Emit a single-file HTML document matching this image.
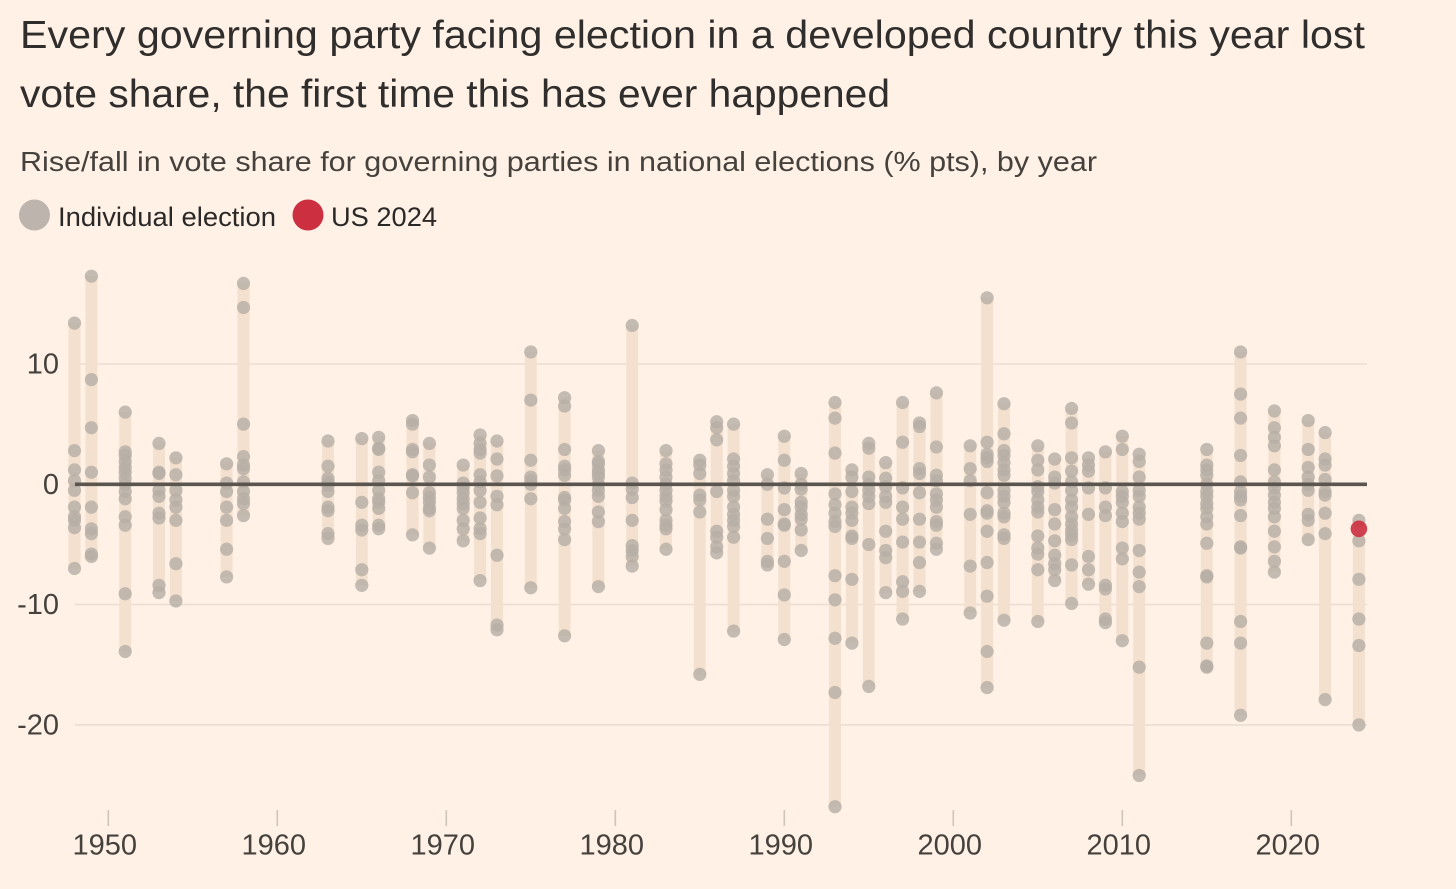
<!DOCTYPE html>
<html lang="en">
<head>
<meta charset="utf-8">
<title>Governing party vote share by year</title>
<style>
html,body{margin:0;padding:0;background:#fff1e5;width:1456px;height:889px;overflow:hidden}
svg{display:block;font-family:"Liberation Sans",sans-serif}
</style>
</head>
<body>
<svg id="chart" width="1456" height="889" viewBox="0 0 1456 889" xmlns="http://www.w3.org/2000/svg">
  <rect x="0" y="0" width="1456" height="889" fill="#fff1e5"/>
  <text x="20" y="48" font-size="39" fill="#302e2c" textLength="1345" lengthAdjust="spacingAndGlyphs">Every governing party facing election in a developed country this year lost</text>
  <text x="20" y="107" font-size="39" fill="#302e2c" textLength="870" lengthAdjust="spacingAndGlyphs">vote share, the first time this has ever happened</text>
  <text x="20" y="171" font-size="28" fill="#45413d" textLength="1077" lengthAdjust="spacingAndGlyphs">Rise/fall in vote share for governing parties in national elections (% pts), by year</text>
  <g>
    <circle cx="34.5" cy="215" r="15.5" fill="#bdb5ad"/>
    <text x="58" y="226" font-size="27" fill="#2b2927" textLength="218" lengthAdjust="spacingAndGlyphs">Individual election</text>
    <circle cx="308" cy="215" r="15.5" fill="#cc3040"/>
    <text x="331" y="226" font-size="27" fill="#2b2927" textLength="106" lengthAdjust="spacingAndGlyphs">US 2024</text>
  </g>
  <g id="grid"></g>
  <g id="bars"></g>
  <g id="dots"></g>
  <g id="zero"></g>
  <g id="highlight"></g>
  <g id="yaxis"></g>
  <g id="xaxis"></g>
</svg>
<script>
const years = [1948,1949,1951,1953,1954,1957,1958,1963,1965,1966,1968,1969,1971,1972,1973,1975,1977,1979,1981,1983,1985,1986,1987,1989,1990,1991,1993,1994,1995,1996,1997,1998,1999,2001,2002,2003,2005,2006,2007,2008,2009,2010,2011,2015,2017,2019,2021,2022,2024];
const voteChanges = [
  [13.4,2.8,1.2,0.3,-0.5,-1.9,-2.7,-3.0,-3.6,-7.0],
  [17.3,8.7,4.7,1.0,-1.9,-3.7,-4.1,-5.8,-6.0],
  [6.0,2.7,2.4,1.9,1.4,1.0,0.5,0.0,-0.6,-1.2,-2.7,-3.4,-9.1,-13.9],
  [3.4,1.0,0.9,-0.5,-1.0,-2.4,-2.8,-8.4,-9.0],
  [2.2,0.8,-0.5,-1.3,-1.9,-3.0,-6.6,-9.7],
  [1.7,0.1,-0.6,-1.9,-3.0,-5.4,-7.7],
  [16.7,14.7,5.0,2.3,1.6,1.3,0.2,-0.6,-1.2,-1.6,-2.6],
  [3.6,1.5,0.5,0.2,-0.1,-0.6,-1.9,-2.2,-4.1,-4.5],
  [3.8,-1.5,-3.4,-3.8,-7.1,-8.4],
  [3.9,3.0,2.9,1.0,0.3,-0.5,-1.2,-1.5,-2.0,-3.4,-3.7],
  [5.3,5.0,2.9,2.7,0.8,0.7,-0.7,-4.2],
  [3.4,1.6,0.6,-0.7,-1.1,-1.5,-2.0,-2.2,-5.3],
  [1.6,0.1,-0.3,-0.7,-1.2,-1.6,-2.0,-3.0,-3.7,-4.7],
  [4.1,3.4,2.9,2.6,0.8,0.2,-0.5,-1.5,-2.8,-3.7,-4.1,-8.0],
  [3.6,2.1,0.7,-1.0,-1.7,-5.9,-11.7,-12.1],
  [11.0,7.0,2.0,0.6,0.3,0.0,-1.2,-8.6],
  [7.2,6.5,2.9,1.5,1.2,0.75,-1.1,-1.3,-2.0,-3.1,-3.7,-4.6,-12.6],
  [2.8,1.9,1.7,1.2,0.9,0.6,0.0,-0.5,-1.0,-2.3,-3.1,-8.5],
  [13.2,0.1,-0.4,-1.1,-3.0,-5.1,-5.5,-6.0,-6.8],
  [2.8,1.7,1.2,0.6,0.0,-0.5,-1.0,-1.4,-2.1,-3.0,-3.4,-3.7,-5.4],
  [2.0,1.6,0.9,-0.9,-1.3,-2.3,-15.8],
  [5.2,4.7,3.7,-0.6,-3.9,-4.4,-5.2,-5.7],
  [5.0,2.1,1.5,0.9,0.3,-0.5,-1.0,-1.9,-2.5,-3.0,-3.5,-4.4,-12.2],
  [0.8,0.0,-2.9,-4.5,-6.4,-6.7],
  [4.0,2.0,-0.3,-2.1,-3.3,-3.4,-6.4,-9.2,-12.9],
  [0.9,0.0,-0.4,-1.5,-1.9,-2.5,-2.9,-3.8,-5.5],
  [6.8,5.5,2.6,-0.8,-1.7,-2.4,-3.1,-3.5,-7.6,-9.6,-12.8,-17.3,-26.8],
  [1.2,0.6,-0.6,-1.9,-2.4,-3.0,-4.3,-4.5,-7.9,-13.2],
  [3.4,3.0,0.6,0.0,-0.5,-1.0,-1.6,-5.0,-16.8],
  [1.8,0.5,-0.2,-1.0,-1.5,-3.9,-5.5,-6.1,-9.0],
  [6.8,3.5,-0.3,-1.9,-2.9,-4.8,-8.1,-8.9,-11.2],
  [5.1,4.8,1.3,0.9,-0.7,-2.9,-4.8,-6.5,-8.9],
  [7.6,3.1,0.75,0.3,-0.8,-1.3,-1.9,-3.1,-3.4,-4.9,-5.4],
  [3.2,1.3,0.3,-2.5,-6.8,-10.7],
  [15.5,3.5,2.5,2.2,1.9,-0.7,-2.2,-2.4,-3.9,-6.5,-9.3,-13.9,-16.9],
  [6.7,4.2,2.8,2.4,1.8,1.2,0.75,-0.5,-1.0,-1.5,-2.4,-2.7,-4.2,-4.5,-11.3],
  [3.2,2.0,1.2,-0.2,-0.6,-1.3,-1.9,-2.3,-4.3,-5.3,-5.8,-7.1,-11.4],
  [2.1,0.6,0.1,-2.1,-3.3,-4.7,-5.9,-6.6,-7.1,-8.0],
  [6.3,5.1,2.2,1.1,0.2,-0.5,-1.3,-1.9,-2.7,-3.3,-3.8,-4.2,-4.6,-6.7,-9.9],
  [2.2,1.6,1.1,-0.3,-2.5,-6.0,-7.1,-8.3],
  [2.7,-0.3,-1.9,-2.6,-8.4,-8.7,-11.2,-11.5],
  [4.0,2.9,-0.6,-1.0,-1.5,-2.4,-3.1,-5.3,-6.2,-13.0],
  [2.5,1.9,0.6,-0.5,-1.0,-1.9,-2.4,-2.9,-5.5,-7.3,-8.5,-15.2,-24.2],
  [2.9,1.6,1.2,0.75,0.0,-0.6,-1.0,-1.6,-2.0,-2.7,-3.3,-4.9,-7.6,-7.7,-13.2,-15.1,-15.2],
  [11.0,7.5,5.5,2.4,0.2,-0.6,-1.0,-1.3,-2.6,-5.2,-5.3,-11.4,-13.2,-19.2],
  [6.1,4.7,3.9,3.2,1.2,0.2,-0.3,-0.9,-1.5,-2.0,-2.7,-3.9,-5.2,-6.4,-7.3],
  [5.3,2.9,1.4,0.6,0.0,-0.5,-2.5,-3.0,-4.6],
  [4.3,2.1,1.6,0.4,-0.6,-0.9,-2.4,-4.1,-17.9],
  [-3.0,-4.7,-7.9,-11.2,-13.4,-20.0]
];
const usYear = 2024;
const usValue = -3.7;
const yTicks = [10,0,-10,-20];
const xTicks = [1950,1960,1970,1980,1990,2000,2010,2020];

const NS = 'http://www.w3.org/2000/svg';
function xScale(year){ return 108.3 + (year - 1950) * 16.9; }
function yScale(v){ return 484.3 - v * 12.03; }
function make(tag, parent, attrs){
  const el = document.createElementNS(NS, tag);
  for (const k in attrs) el.setAttribute(k, attrs[k]);
  parent.appendChild(el);
  return el;
}
const gridG = document.getElementById('grid');
const barsG = document.getElementById('bars');
const dotsG = document.getElementById('dots');
const zeroG = document.getElementById('zero');
const hiG = document.getElementById('highlight');
const yG = document.getElementById('yaxis');
const xG = document.getElementById('xaxis');

yTicks.forEach(function(t){
  if (t !== 0) {
    const line = make('line', gridG, {x1:75, x2:1367, y1:yScale(t), y2:yScale(t), stroke:'#eaddd1', 'stroke-width':1.6});
    
    
  }
  const label = make('text', yG, {x:59, y:yScale(t)+9.5, 'text-anchor':'end', 'font-size':29, fill:'#45413d'});
  
  
  label.textContent = t;
});

years.forEach(function(year, i){
  const vals = voteChanges[i];
  const hi = Math.max.apply(null, vals);
  const lo = Math.min.apply(null, vals);
  const bar = make('rect', barsG, {x:xScale(year)-6, y:yScale(hi), width:12, height:yScale(lo)-yScale(hi), fill:'#f3e0cf'});
  
  
  vals.forEach(function(v){
    const dot = make('circle', dotsG, {cx:xScale(year), cy:yScale(v), r:6.6, fill:'#b7afa6', 'fill-opacity':0.82});
    
    
  });
});

const zeroLine = make('line', zeroG, {x1:75, x2:1367, y1:yScale(0), y2:yScale(0), stroke:'#5b5550', 'stroke-width':3.6});



const usDot = make('circle', hiG, {cx:xScale(usYear), cy:yScale(usValue), r:8.3, fill:'#cc3040', 'fill-opacity':0.9});



xTicks.forEach(function(t){
  const tick = make('line', xG, {x1:xScale(t), x2:xScale(t), y1:810, y2:826, stroke:'#cfc5bb', 'stroke-width':1.6});
  
  
  const label = make('text', xG, {x:xScale(t)-3.5, y:854.5, 'text-anchor':'middle', 'font-size':29, fill:'#45413d'});
  
  
  label.textContent = t;
});
</script>
</body>
</html>
